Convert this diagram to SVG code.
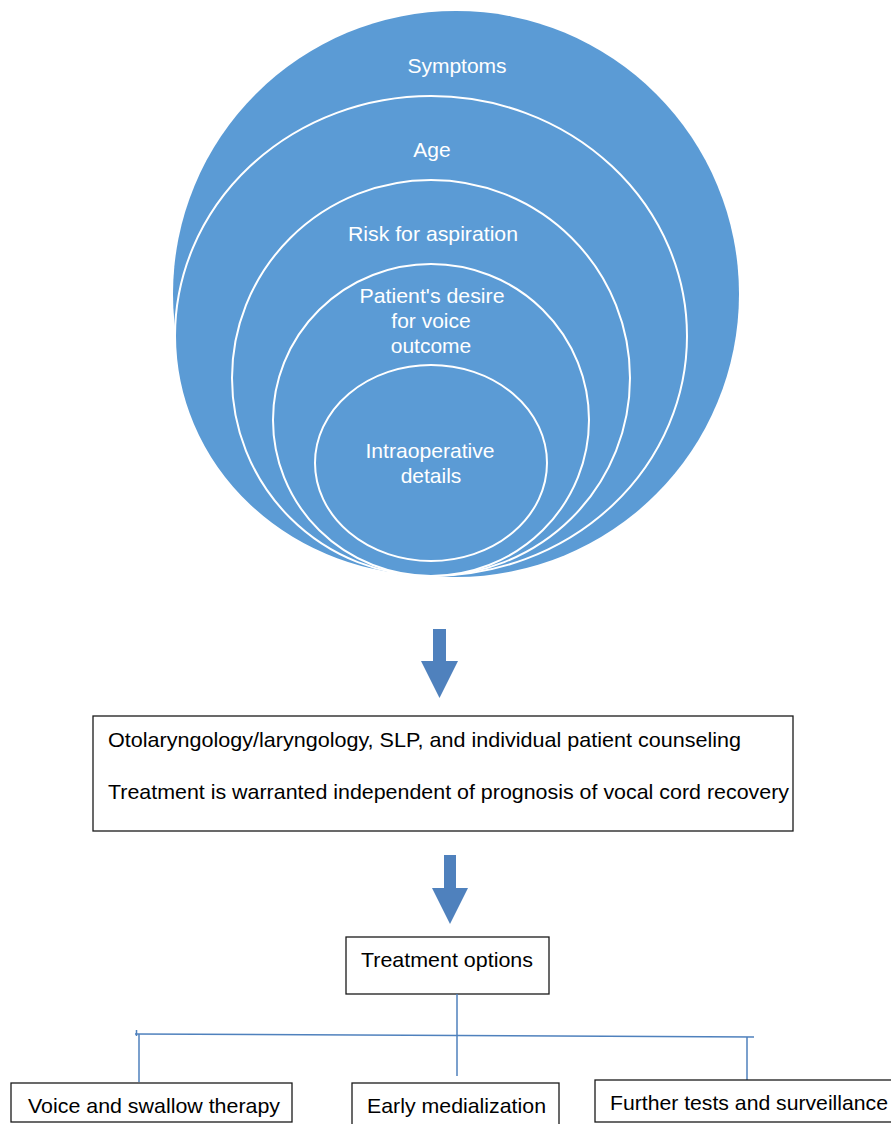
<svg xmlns="http://www.w3.org/2000/svg" width="891" height="1124" viewBox="0 0 891 1124">
<style>
.c{fill:#5B9BD5;stroke:#fff;stroke-width:2}
.ct{font-family:"Liberation Sans",Arial,sans-serif;font-size:21px;fill:#fff;text-anchor:middle}
.bx{fill:#fff;stroke:#1a1a1a;stroke-width:1.3}
.bt{font-family:"Liberation Sans",Arial,sans-serif;font-size:21px;fill:#000}
.arr{fill:#4F81BD}
.ln{stroke:#4F81BD;stroke-width:1.5;fill:none}
</style>
<rect width="891" height="1124" fill="#fff"/>
<g id="circles">
<g id="symptoms"><ellipse cx="456" cy="294" rx="283" ry="283" fill="#5B9BD5"/><text class="ct" x="457" y="73">Symptoms</text></g>
<g id="age"><ellipse class="c" cx="431" cy="336" rx="256" ry="240"/><text class="ct" x="432" y="157">Age</text></g>
<g id="risk"><ellipse class="c" cx="431" cy="378" rx="199" ry="198"/><text class="ct" x="433" y="241" textLength="170" lengthAdjust="spacingAndGlyphs">Risk for aspiration</text></g>
<g id="desire"><ellipse class="c" cx="431" cy="420" rx="158" ry="156"/><text class="ct" x="432" y="303" textLength="145" lengthAdjust="spacingAndGlyphs">Patient's desire</text><text class="ct" x="431" y="328">for voice</text><text class="ct" x="431" y="353">outcome</text></g>
<g id="intraop"><ellipse class="c" cx="431" cy="463" rx="116" ry="98"/><text class="ct" x="430" y="458" textLength="129" lengthAdjust="spacingAndGlyphs">Intraoperative</text><text class="ct" x="431" y="483">details</text></g>
</g>
<g id="arrow1"><polygon class="arr" points="433,629 446,629 446,661 458,661 439.5,698 421,661 433,661"/></g>
<g id="counseling">
<rect class="bx" x="93" y="716" width="700" height="115"/>
<text class="bt" x="108" y="747" textLength="633" lengthAdjust="spacingAndGlyphs">Otolaryngology/laryngology, SLP, and individual patient counseling</text>
<text class="bt" x="108" y="799" textLength="681" lengthAdjust="spacingAndGlyphs">Treatment is warranted independent of prognosis of vocal cord recovery</text>
</g>
<g id="arrow2"><polygon class="arr" points="444,855 456,855 456,888 468,888 450,924 432,888 444,888"/></g>
<g id="options"><rect class="bx" x="346" y="937" width="203" height="57"/><text class="bt" x="361" y="967" textLength="172" lengthAdjust="spacingAndGlyphs">Treatment options</text></g>
<g id="connectors">
<line class="ln" x1="457" y1="994" x2="457" y2="1076"/>
<line class="ln" x1="135" y1="1034" x2="754" y2="1037"/>
<line class="ln" x1="136.5" y1="1030" x2="136.5" y2="1036"/>
<line class="ln" x1="139" y1="1034" x2="139" y2="1082"/>
<line class="ln" x1="747" y1="1037" x2="747" y2="1080"/>
</g>
<g id="voice"><rect class="bx" x="11" y="1083" width="281" height="39" stroke-width="2"/><text class="bt" x="28" y="1113" textLength="252" lengthAdjust="spacingAndGlyphs">Voice and swallow therapy</text></g>
<g id="early"><rect class="bx" x="352" y="1083" width="207" height="45"/><text class="bt" x="367" y="1113" textLength="179" lengthAdjust="spacingAndGlyphs">Early medialization</text></g>
<g id="further"><rect class="bx" x="595" y="1080" width="300" height="42"/><text class="bt" x="610" y="1110" textLength="278" lengthAdjust="spacingAndGlyphs">Further tests and surveillance</text></g>
</svg>
